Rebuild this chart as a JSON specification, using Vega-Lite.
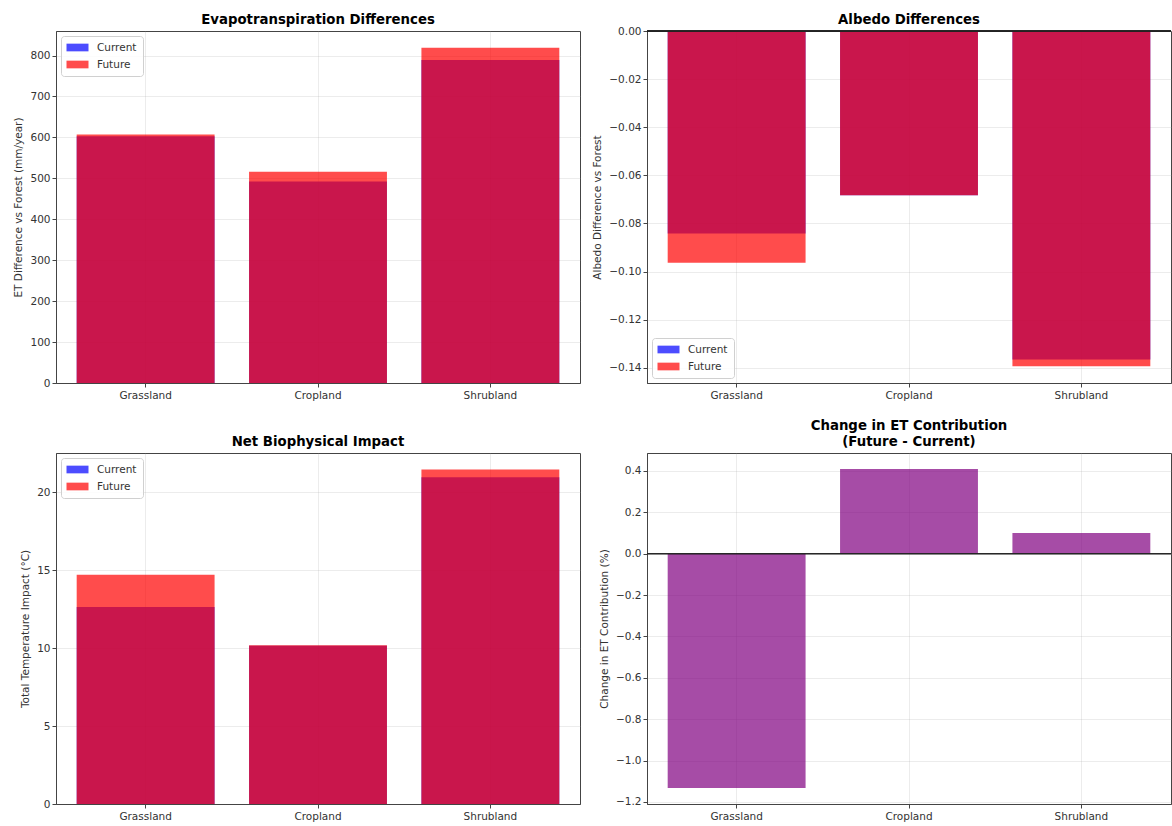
{
  "$schema": "https://vega.github.io/schema/vega-lite/v6.json",
  "background": "white",
  "padding": {"left": 13, "top": 12, "right": 0, "bottom": 0},
  "config": {
    "font": "DejaVu Sans",
    "view": {"stroke": "#444", "strokeWidth": 1},
    "title": {"font": "DejaVu Sans", "fontSize": 13.3, "fontWeight": "bold", "color": "#000", "offset": 5, "anchor": "middle", "lineHeight": 16},
    "axis": {"labelFont": "DejaVu Sans", "labelFontSize": 10.5, "labelColor": "#333", "titleFont": "DejaVu Sans", "titleFontSize": 10.5, "titleFontWeight": "normal", "titleColor": "#333", "tickColor": "#444", "tickSize": 4, "domainColor": "#444", "domainWidth": 1, "gridColor": "#b0b0b0", "gridOpacity": 0.3, "gridWidth": 0.8, "labelPadding": 2, "titlePadding": 6, "zindex": 1},
    "legend": {"title": null, "symbolType": "M-2,-0.7L2,-0.7L2,0.7L-2,0.7Z", "symbolSize": 121, "symbolOffset": 5, "symbolStrokeWidth": 0, "symbolOpacity": 0.7, "labelFont": "DejaVu Sans", "labelFontSize": 10.5, "labelColor": "#333", "padding": 6, "strokeColor": "#d0d0d0", "fillColor": "rgba(255,255,255,0.85)", "cornerRadius": 3, "rowPadding": 6, "labelOffset": 14, "offset": 5}
  },
  "datasets": {
    "et": [
      {"category": "Grassland", "scenario": "Current", "value": 603},
      {"category": "Cropland", "scenario": "Current", "value": 492},
      {"category": "Shrubland", "scenario": "Current", "value": 789},
      {"category": "Grassland", "scenario": "Future", "value": 607},
      {"category": "Cropland", "scenario": "Future", "value": 516},
      {"category": "Shrubland", "scenario": "Future", "value": 819}
    ],
    "albedo": [
      {"category": "Grassland", "scenario": "Current", "value": -0.0842},
      {"category": "Cropland", "scenario": "Current", "value": -0.0683},
      {"category": "Shrubland", "scenario": "Current", "value": -0.1365},
      {"category": "Grassland", "scenario": "Future", "value": -0.0963},
      {"category": "Cropland", "scenario": "Future", "value": -0.0683},
      {"category": "Shrubland", "scenario": "Future", "value": -0.1393}
    ],
    "net": [
      {"category": "Grassland", "scenario": "Current", "value": 12.63},
      {"category": "Cropland", "scenario": "Current", "value": 10.15},
      {"category": "Shrubland", "scenario": "Current", "value": 20.95},
      {"category": "Grassland", "scenario": "Future", "value": 14.69},
      {"category": "Cropland", "scenario": "Future", "value": 10.17},
      {"category": "Shrubland", "scenario": "Future", "value": 21.44}
    ],
    "change": [
      {"category": "Grassland", "value": -1.133},
      {"category": "Cropland", "value": 0.41},
      {"category": "Shrubland", "value": 0.10}
    ]
  },
  "columns": 2,
  "bounds": "flush",
  "spacing": {"row": 70, "column": 67},
  "concat": [
    {
      "width": 524, "height": 352,
      "title": "Evapotranspiration Differences",
      "data": {"name": "et"},
      "mark": {"type": "bar", "opacity": 0.7},
      "encoding": {
        "x": {"field": "category", "type": "nominal", "sort": ["Grassland", "Cropland", "Shrubland"], "scale": {"paddingInner": 0.2, "paddingOuter": 0.12}, "axis": {"title": null, "labelAngle": 0, "grid": true, "bandPosition": 0.5, "labelPadding": 3}},
        "y": {"field": "value", "type": "quantitative", "stack": null, "scale": {"domain": [0, 860], "nice": false, "zero": true}, "axis": {"title": "ET Difference vs Forest (mm/year)", "values": [0, 100, 200, 300, 400, 500, 600, 700, 800]}},
        "color": {"field": "scenario", "type": "nominal", "scale": {"domain": ["Current", "Future"], "range": ["#0000ff", "#ff0000"]}, "legend": {"orient": "top-left"}}
      }
    },
    {
      "width": 524, "height": 352,
      "title": {"text": "Albedo Differences", "dy": 5},
      "data": {"name": "albedo"},
      "layer": [
        {
          "mark": {"type": "bar", "opacity": 0.7},
          "encoding": {
            "x": {"field": "category", "type": "nominal", "sort": ["Grassland", "Cropland", "Shrubland"], "scale": {"paddingInner": 0.2, "paddingOuter": 0.12}, "axis": {"title": null, "labelAngle": 0, "grid": true, "bandPosition": 0.5, "labelPadding": 3}},
            "y": {"field": "value", "type": "quantitative", "stack": null, "scale": {"domain": [-0.1463, 0], "nice": false, "zero": true}, "axis": {"title": "Albedo Difference vs Forest", "values": [0, -0.02, -0.04, -0.06, -0.08, -0.1, -0.12, -0.14], "format": ".2f"}},
            "color": {"field": "scenario", "type": "nominal", "scale": {"domain": ["Current", "Future"], "range": ["#0000ff", "#ff0000"]}, "legend": {"orient": "bottom-left"}}
          }
        },
        {
          "mark": {"type": "rule", "color": "#222", "strokeWidth": 0.9},
          "encoding": {"y": {"datum": 0}}
        }
      ]
    },
    {
      "width": 524, "height": 351,
      "title": "Net Biophysical Impact",
      "data": {"name": "net"},
      "mark": {"type": "bar", "opacity": 0.7},
      "encoding": {
        "x": {"field": "category", "type": "nominal", "sort": ["Grassland", "Cropland", "Shrubland"], "scale": {"paddingInner": 0.2, "paddingOuter": 0.12}, "axis": {"title": null, "labelAngle": 0, "grid": true, "bandPosition": 0.5, "labelPadding": 3}},
        "y": {"field": "value", "type": "quantitative", "stack": null, "scale": {"domain": [0, 22.5], "nice": false, "zero": true}, "axis": {"title": "Total Temperature Impact (°C)", "values": [0, 5, 10, 15, 20]}},
        "color": {"field": "scenario", "type": "nominal", "scale": {"domain": ["Current", "Future"], "range": ["#0000ff", "#ff0000"]}, "legend": {"orient": "top-left"}}
      }
    },
    {
      "width": 524, "height": 351,
      "title": {"text": ["Change in ET Contribution", "(Future - Current)"]},
      "data": {"name": "change"},
      "layer": [
        {
          "mark": {"type": "bar", "opacity": 0.7, "color": "#800080"},
          "encoding": {
            "x": {"field": "category", "type": "nominal", "sort": ["Grassland", "Cropland", "Shrubland"], "scale": {"paddingInner": 0.2, "paddingOuter": 0.12}, "axis": {"title": null, "labelAngle": 0, "grid": true, "bandPosition": 0.5, "labelPadding": 3}},
            "y": {"field": "value", "type": "quantitative", "scale": {"domain": [-1.21, 0.487], "nice": false, "zero": true}, "axis": {"title": "Change in ET Contribution (%)", "values": [0.4, 0.2, 0, -0.2, -0.4, -0.6, -0.8, -1.0, -1.2], "format": ".1f"}}
          }
        },
        {
          "mark": {"type": "rule", "color": "#222", "strokeWidth": 0.9},
          "encoding": {"y": {"datum": 0}}
        }
      ]
    }
  ],
  "resolve": {"scale": {"color": "independent", "y": "independent", "x": "independent"}, "legend": {"color": "independent"}}
}
